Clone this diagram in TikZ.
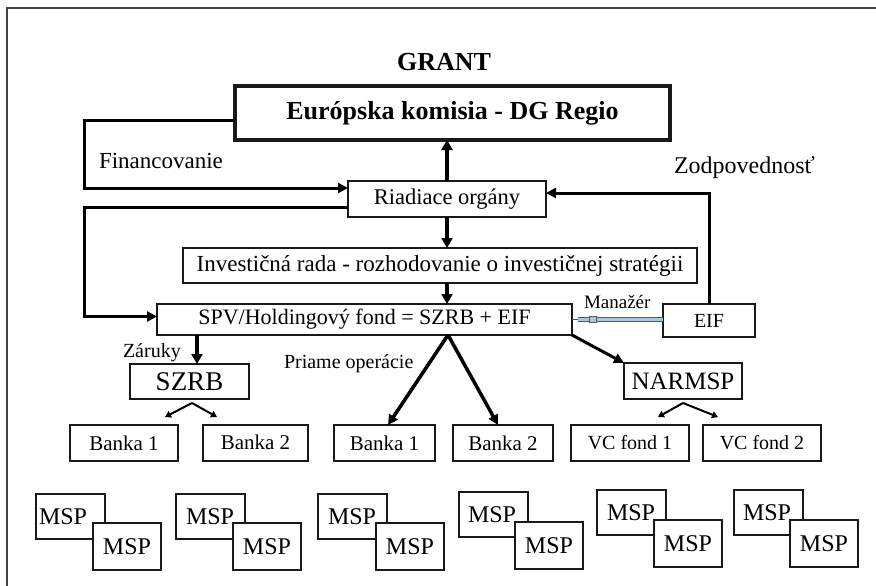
\documentclass[tikz,border=0pt]{standalone}
\usepackage{fontspec}
\setmainfont{Liberation Serif}
\usetikzlibrary{arrows.meta}
\definecolor{linkblue}{RGB}{170,200,220}
\begin{document}
\begin{tikzpicture}[x=1pt,y=-1pt,
  fs/.style={font=\fontsize{#1}{#1}\selectfont},
  fsb/.style={font=\fontsize{#1}{#1}\selectfont\bfseries},
  sz/.style 2 args={minimum width=#1pt, minimum height=#2pt},
  box/.style={draw=black!90, line width=1.6pt, fill=white, rectangle,
              inner sep=0pt, outer sep=0pt},
  bigbox/.style={box, line width=3.5pt},
  lbl/.style={inner sep=0pt, outer sep=0pt, anchor=base west},
  flow/.style={line width=3pt, -{Triangle[length=10pt,width=10pt]}},
  main/.style={line width=4pt, -{Triangle[length=10pt,width=11pt]}},
  split/.style={line width=2pt, -{Triangle[length=6pt,width=7pt]}},
  link/.style={draw=black!65, line width=1pt, double=linkblue, double distance=3pt},
  frame/.style={draw=black!75, line width=2pt}
]
\useasboundingbox (0,0) rectangle (876,586);

% outer frame
\draw[frame] (7,586) -- (7,8) -- (876,8);

% title
\node[fsb=26, inner sep=0pt] (grant) at (444,62) {GRANT};

% main chain
\node[bigbox, sz={435}{54}, fsb=26] (ek)  at (452.5,113) {Európska komisia - DG Regio};
\node[box, sz={198}{36}, fs=22.5]   (ro)  at (447,199)   {Riadiace orgány};
\node[box, sz={514}{35}, fs=23]     (inv) at (440,265.5) {Investičná rada - rozhodovanie o investičnej stratégii};
\node[box, sz={415}{31}, fs=22]     (spv) at (364.5,319.5) {SPV/Holdingový fond = SZRB + EIF};
\node[box, sz={92}{33}, fs=20]      (eif) at (709,320.5) {EIF};

% second level
\node[box, sz={119}{35}, fs=27] (szrb) at (189.5,381.5) {SZRB};
\node[box, sz={118}{36}, fs=25] (nar)  at (683,381)     {NARMSP};

% third level
\node[box, sz={108}{36}, fs=21] (b1)  at (124,443)   {Banka 1};
\node[box, sz={105}{36}, fs=21] (b2)  at (255.5,443) {\raisebox{2pt}{Banka 2}};
\node[box, sz={101}{36}, fs=21] (b3)  at (384.5,443) {Banka 1};
\node[box, sz={100}{36}, fs=21] (b4)  at (503,443)   {Banka 2};
\node[box, sz={118}{36}, fs=20] (vc1) at (630,443)   {VC fond 1};
\node[box, sz={118}{36}, fs=20] (vc2) at (762,443)   {\raisebox{2pt}{VC fond 2}};

% labels
\node[lbl, fs=23] (lfin)  at (99,168)  {Financovanie};
\node[lbl, fs=24] (lzod)  at (674,173) {Zodpovednosť};
\node[lbl, fs=19] (lman)  at (584,308) {Manažér};
\node[lbl, fs=20] (lzar)  at (123,357) {Záruky};
\node[lbl, fs=20] (lpri)  at (284,368) {Priame operácie};

% funding loop and feedback loops
\draw[flow] ([yshift=-7pt]ek.west) -- ++(-151,0) |- ([yshift=11pt]ro.west);
\draw[flow] ([yshift=-8pt]ro.west) -- ++(-264,0) |- ([yshift=3pt]spv.west);
\draw[flow] (eif.north) |- ([yshift=6pt]ro.east);

% vertical chain
\draw[main] (ro.north) -- (ro.north |- ek.south);
\draw[main] (ro.south) -- (ro.south |- inv.north);
\draw[main] (ro.south |- inv.south) -- (ro.south |- spv.north);

% manager link
\draw[line width=0.8pt, black!70] (spv.east) -- ++(6,0) coordinate (m1);
\draw[link] (m1) -- (m1 -| eif.west);
\node[draw=black!65, fill=linkblue, line width=0.8pt, inner sep=0pt,
      minimum width=7pt, minimum height=6pt] (msq) at ([xshift=20.5pt]spv.east) {};

% branches from the holding fund
\draw[main] ([xshift=7.5pt]szrb.north |- spv.south) -- ([xshift=7.5pt]szrb.north);
\coordinate (po) at ([xshift=83.5pt]spv.south);
\draw[flow, line width=3.5pt] (po) -- ([xshift=3.5pt]b3.north);
\draw[flow, line width=3.5pt] (po) -- ([xshift=-5pt]b4.north);
\draw[flow] (spv.south east) -- (nar.north west);

% small splits
\coordinate (sa) at ([xshift=2.5pt,yshift=-4pt]szrb.south);
\draw[split] (sa) -- ++(-27,14);
\draw[split] (sa) -- ++(25,14);
\coordinate (na) at ([yshift=-4pt]nar.south);
\draw[split] (na) -- ++(-25,14);
\draw[split] (na) -- ++(35,14);

% MSP pairs
\foreach \bx/\by/\fx/\fy/\o [count=\i] in
  {36/494/93/523/3, 176/494/233/523/10, 318/494/376/523/10,
   459/492/515/522/9, 597/490/654/520/10, 734/490/790/520/9}{
  \node[box, sz={69}{45}, anchor=north west] (mspb\i) at (\bx,\by) {};
  \node[lbl, fs=24] (mspbt\i) at (\bx+\o,\by+30) {MSP};
  \node[box, sz={68}{47}, anchor=north west, fs=24] (mspf\i) at (\fx,\fy) {\raisebox{-3pt}{MSP}};
}
\end{tikzpicture}
\end{document}
